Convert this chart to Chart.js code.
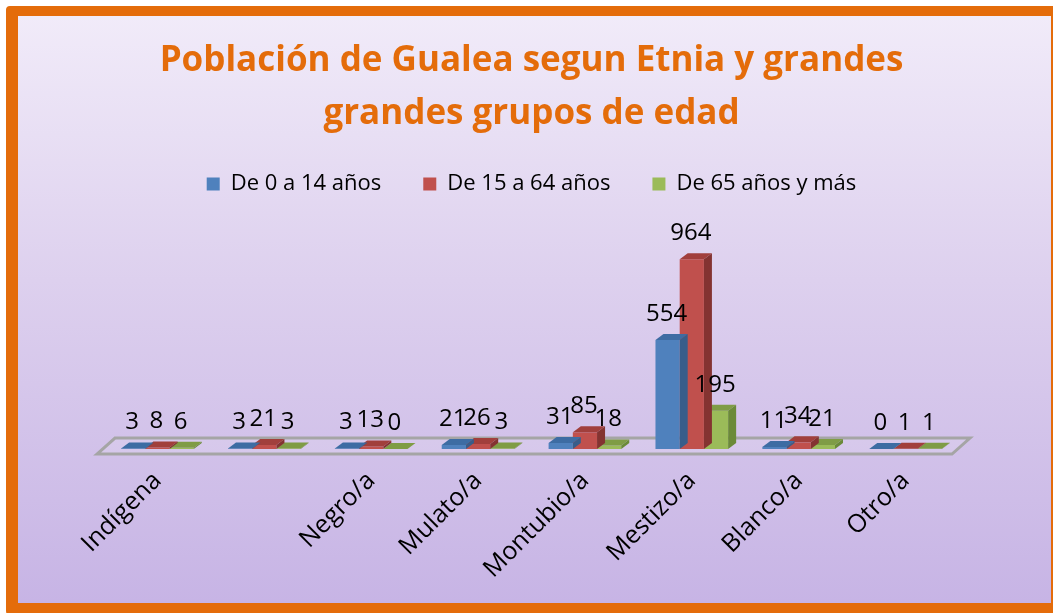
<!DOCTYPE html>
<html>
<head>
<meta charset="utf-8">
<script src="https://cdn.jsdelivr.net/npm/chart.js@4/dist/chart.umd.min.js"></script>
<style>
  html, body { margin: 0; padding: 0; overflow: hidden; width: 1053px; height: 613px; background: #fff; }
  #frame {
    position: absolute; left: 6px; top: 6px;
    width: 1033px; height: 587px;
    border-style: solid; border-color: #e46c0a;
    border-width: 10px 12px 12px 12px;
    border-radius: 4px;
    background: linear-gradient(to bottom, #f1ebf9 0%, #ddd0ee 45%, #c7b4e5 100%);
  }
</style>
</head>
<body>
<div id="frame"><canvas id="etniaChart" width="1033" height="587"></canvas></div>
<script>
// Poblacion de Gualea por etnia y grandes grupos de edad
const categories = ['Indígena', '', 'Negro/a', 'Mulato/a', 'Montubio/a', 'Mestizo/a', 'Blanco/a', 'Otro/a'];
const seriesNames = ['De 0 a 14 años', 'De 15 a 64 años', 'De 65 años y más'];
const age0to14 = [3, 3, 3, 21, 31, 554, 11, 0];
const age15to64 = [8, 21, 13, 26, 85, 964, 34, 1];
const age65plus = [6, 3, 0, 3, 18, 195, 21, 1];

const fronts = ['#4f81bd', '#c0504d', '#9bbb59'];
const tops = ['#3d6ca3', '#a13f3c', '#7f9c45'];
const sides = ['#385d8a', '#843331', '#6b8a38'];

const DX = 8, DY = 6;

// floor parallelogram under the bars
const floorPlugin = {
    id: 'floor',
    beforeDatasetsDraw(chart) {
        const a = chart.chartArea;
        const ctx = chart.ctx;
        ctx.save();
        ctx.beginPath();
        ctx.moveTo(a.left - 7, a.bottom + 5);
        ctx.lineTo(a.left + 11, a.bottom - 11);
        ctx.lineTo(a.right + 11, a.bottom - 11);
        ctx.lineTo(a.right - 7, a.bottom + 5);
        ctx.closePath();
        ctx.fillStyle = 'rgba(255,255,255,0.12)';
        ctx.fill();
        ctx.lineWidth = 3;
        ctx.strokeStyle = '#a5a5a5';
        ctx.stroke();
        ctx.restore();
    }
};

// fake 3d: top and side faces for each bar
const box3dPlugin = {
    id: 'box3d',
    afterDatasetDraw(chart, args) {
        const i = args.index;
        const meta = chart.getDatasetMeta(i);
        const ctx = chart.ctx;
        ctx.save();
        meta.data.forEach(bar => {
            const p = bar.getProps(['x', 'y', 'base', 'width'], true);
            const l = p.x - p.width / 2, r = p.x + p.width / 2;
            ctx.fillStyle = tops[i];
            ctx.beginPath();
            ctx.moveTo(l, p.y);
            ctx.lineTo(l + DX, p.y - DY);
            ctx.lineTo(r + DX, p.y - DY);
            ctx.lineTo(r, p.y);
            ctx.closePath();
            ctx.fill();
            ctx.fillStyle = sides[i];
            ctx.beginPath();
            ctx.moveTo(r, p.y);
            ctx.lineTo(r + DX, p.y - DY);
            ctx.lineTo(r + DX, p.base - DY);
            ctx.lineTo(r, p.base);
            ctx.closePath();
            ctx.fill();
        });
        ctx.restore();
    }
};

// value labels above the bars
const valueLabels = {
    id: 'valueLabels',
    afterDatasetsDraw(chart) {
        const ctx = chart.ctx;
        ctx.save();
        ctx.font = '24px "Open Sans"';
        ctx.fillStyle = '#000';
        ctx.textAlign = 'center';
        ctx.textBaseline = 'middle';
        chart.data.datasets.forEach((ds, i) => {
            chart.getDatasetMeta(i).data.forEach((bar, j) => {
                ctx.fillText(ds.data[j], bar.x - 1, bar.y - 26);
            });
        });
        ctx.restore();
    }
};

new Chart(document.getElementById('etniaChart'), {
    type: 'bar',
    data: {
        labels: categories,
        datasets: [
            { label: seriesNames[0], data: age0to14, backgroundColor: fronts[0] },
            { label: seriesNames[1], data: age15to64, backgroundColor: fronts[1] },
            { label: seriesNames[2], data: age65plus, backgroundColor: fronts[2] }
        ]
    },
    options: {
        responsive: false,
        animation: false,
        layout: { padding: { left: 86, right: 92, top: 0, bottom: 10 } },
        datasets: { bar: { categoryPercentage: 0.68, barPercentage: 1 } },
        scales: {
            x: {
                grid: { display: false },
                border: { display: false },
                ticks: {
                    color: '#000',
                    font: { family: '"Open Sans"', size: 25 },
                    maxRotation: 45, minRotation: 45,
                    padding: 9,
                    autoSkip: false
                }
            },
            y: { display: false, min: 0, max: 1240 }
        },
        plugins: {
            title: {
                display: true,
                text: ['Población de Gualea segun Etnia y grandes', 'grandes grupos de edad'],
                color: '#e46c0a',
                font: { family: '"Open Sans"', size: 35, weight: 'bold', lineHeight: 1.5 },
                padding: { top: 19, bottom: -9 }
            },
            legend: {
                labels: {
                    color: '#000',
                    font: { family: '"Open Sans"', size: 22 },
                    boxWidth: 13, boxHeight: 13,
                    padding: 42
                }
            },
            tooltip: { enabled: false }
        }
    },
    plugins: [floorPlugin, box3dPlugin, valueLabels]
});
</script>
</body>
</html>
